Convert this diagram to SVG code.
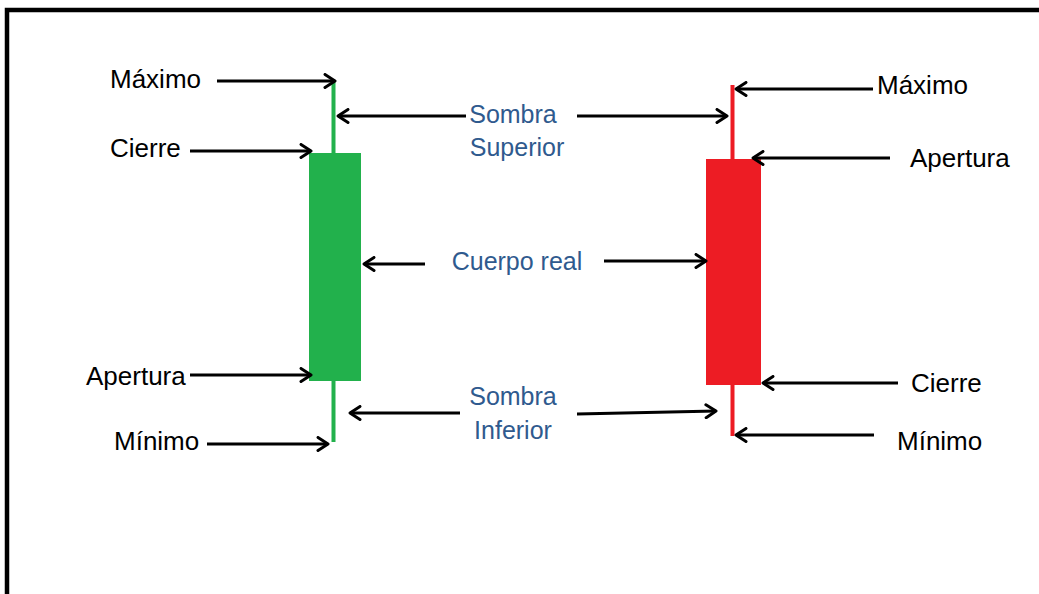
<svg xmlns="http://www.w3.org/2000/svg" width="1039" height="594" viewBox="0 0 1039 594">
  <defs>
    <marker id="arr" viewBox="0 0 14 16" refX="12" refY="8" markerWidth="14" markerHeight="16" markerUnits="userSpaceOnUse" orient="auto">
      <path d="M2,1.5 L12,8 L2,14.5" fill="none" stroke="#000" stroke-width="3" stroke-linecap="round" stroke-linejoin="round"/>
    </marker>
    <style>
      .lbl { font-family: "Liberation Sans", Arial, sans-serif; font-size: 26px; fill: #000; }
      .blu { font-family: "Liberation Sans", Arial, sans-serif; font-size: 25px; fill: #2F5A8E; text-anchor: middle; }
      .ar { stroke: #000; stroke-width: 3; fill: none; marker-end: url(#arr); }
    </style>
  </defs>
  <rect width="1039" height="594" fill="#fff"/>
  <path d="M7,594 L7,10 L1039,10" fill="none" stroke="#000" stroke-width="4.5"/>

  <g id="green-candle">
    <line x1="333.5" y1="82" x2="333.5" y2="442" stroke="#22B14C" stroke-width="4"/>
    <rect x="309" y="153" width="52" height="228" fill="#22B14C"/>
  </g>
  <g id="red-candle">
    <line x1="732.5" y1="85" x2="732.5" y2="436" stroke="#ED1C24" stroke-width="4"/>
    <rect x="706" y="159" width="55" height="226" fill="#ED1C24"/>
  </g>

  <g id="labels">
    <text class="lbl" x="110" y="88">Máximo</text>
    <text class="lbl" x="110" y="157">Cierre</text>
    <text class="lbl" x="86" y="385">Apertura</text>
    <text class="lbl" x="114" y="450">Mínimo</text>
    <text class="lbl" x="877" y="94">Máximo</text>
    <text class="lbl" x="910" y="167">Apertura</text>
    <text class="lbl" x="911" y="392">Cierre</text>
    <text class="lbl" x="897" y="450">Mínimo</text>
    <text class="blu" x="513" y="123">Sombra</text>
    <text class="blu" x="517" y="156">Superior</text>
    <text class="blu" x="517" y="270">Cuerpo real</text>
    <text class="blu" x="513" y="405">Sombra</text>
    <text class="blu" x="513" y="439">Inferior</text>
  </g>

  <g id="connectors">
    <line class="ar" x1="217" y1="81" x2="335" y2="81"/>
    <line class="ar" x1="190" y1="151" x2="311" y2="151"/>
    <line class="ar" x1="190" y1="375" x2="311" y2="375"/>
    <line class="ar" x1="207" y1="444" x2="328" y2="444"/>
    <line class="ar" x1="466" y1="116" x2="338" y2="116"/>
    <line class="ar" x1="577" y1="116" x2="727" y2="116"/>
    <line class="ar" x1="425" y1="264" x2="364" y2="264"/>
    <line class="ar" x1="604" y1="261" x2="706" y2="261"/>
    <line class="ar" x1="460" y1="413" x2="350" y2="413"/>
    <line class="ar" x1="577" y1="414" x2="716" y2="411"/>
    <line class="ar" x1="873" y1="89" x2="736" y2="89"/>
    <line class="ar" x1="890" y1="158" x2="753" y2="158"/>
    <line class="ar" x1="898" y1="383" x2="763" y2="383"/>
    <line class="ar" x1="874" y1="435" x2="736" y2="435"/>
  </g>
</svg>
